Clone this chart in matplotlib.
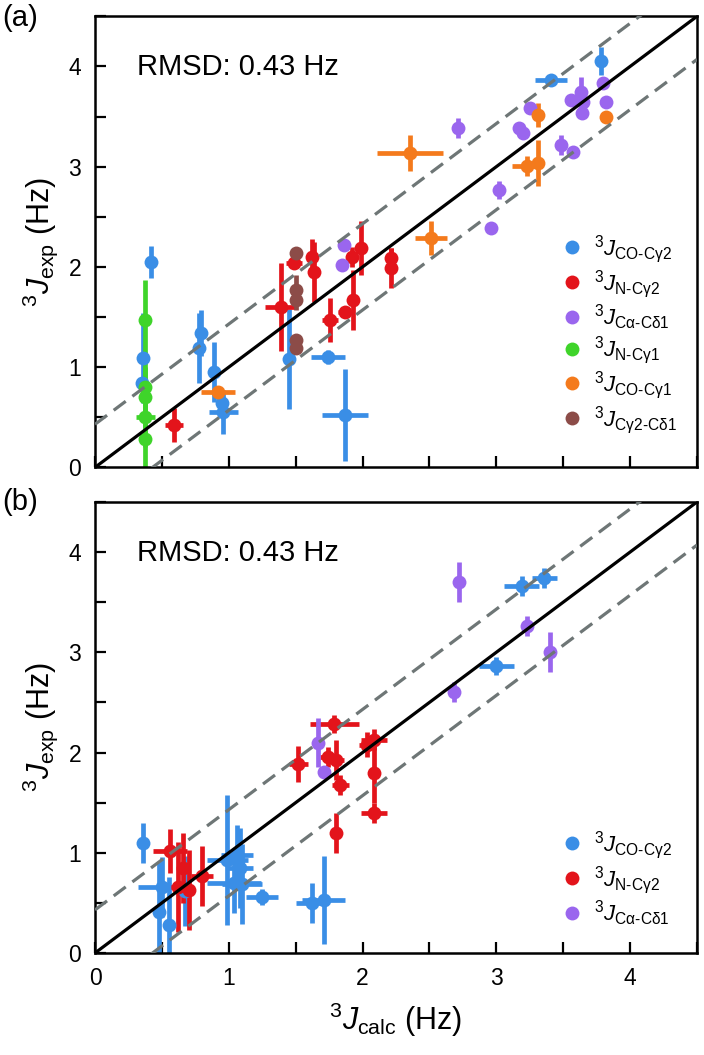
"""Experimental vs calculated 3J couplings, panels (a) and (b)"""
import numpy as np
import matplotlib
matplotlib.use("Agg")
import matplotlib.pyplot as plt
from matplotlib.lines import Line2D
from matplotlib.ticker import MultipleLocator

plt.rcParams['font.family'] = ['Liberation Sans', 'DejaVu Sans']
plt.rcParams['mathtext.fontset'] = 'custom'
plt.rcParams['mathtext.rm'] = 'Liberation Sans'
plt.rcParams['mathtext.it'] = 'Liberation Sans:italic'
plt.rcParams['mathtext.bf'] = 'Liberation Sans:bold'

RMSD = 0.43

# ---- panel (a) ----
blue_a_x = [0.42, 0.36, 0.35, 0.79, 0.78, 0.89, 0.95, 0.96, 1.45, 1.74, 1.87, 3.41, 3.78]
blue_a_y = [2.05, 1.09, 0.84, 1.34, 1.19, 0.95, 0.64, 0.55, 1.08, 1.10, 0.52, 3.86, 4.05]
blue_a_xerr = [0, 0, 0, 0, 0, 0, 0, 0.11, 0, 0.125, 0.17, 0.12, 0]
blue_a_yerr = [0.16, 0.45, 0.05, 0.23, 0.35, 0.3, 0.1, 0.22, 0.5, 0.07, 0.46, 0.03, 0.14]

red_a_x = [0.59, 1.39, 1.485, 1.62, 1.64, 1.76, 1.87, 1.93, 1.92, 1.985, 2.21, 2.21]
red_a_y = [0.42, 1.60, 2.04, 2.10, 1.95, 1.47, 1.55, 1.67, 2.10, 2.19, 2.09, 1.99]
red_a_xerr = [0.07, 0.12, 0.06, 0, 0, 0.06, 0.05, 0, 0, 0, 0, 0]
red_a_yerr = [0.17, 0.44, 0.05, 0.18, 0.3, 0.22, 0.05, 0.3, 0.1, 0.27, 0.1, 0.2]

purple_a_x = [1.86, 1.85, 2.71, 2.96, 3.02, 3.17, 3.20, 3.25, 3.48, 3.57, 3.56, 3.63, 3.65, 3.64, 3.80, 3.82]
purple_a_y = [2.22, 2.02, 3.39, 2.39, 2.77, 3.39, 3.34, 3.59, 3.22, 3.15, 3.67, 3.75, 3.65, 3.54, 3.84, 3.65]
purple_a_yerr = [0.05, 0.05, 0.1, 0.03, 0.09, 0.04, 0.04, 0.05, 0.1, 0.04, 0.04, 0.14, 0.05, 0.04, 0.05, 0.04]

green_a_x = [0.375, 0.375, 0.375, 0.375, 0.375]
green_a_y = [1.47, 0.80, 0.70, 0.50, 0.28]
green_a_xerr = [0, 0, 0, 0.07, 0]
green_a_yerr = [0.40, 0.35, 0.3, 0.3, 0.28]

orange_a_x = [0.92, 2.355, 2.51, 3.23, 3.31, 3.31, 3.82]
orange_a_y = [0.75, 3.14, 2.29, 3.01, 3.04, 3.52, 3.50]
orange_a_xerr = [0.13, 0.25, 0.12, 0.11, 0, 0, 0]
orange_a_yerr = [0.03, 0.18, 0.17, 0.10, 0.23, 0.12, 0.03]

brown_a_x = [1.50, 1.50, 1.50, 1.50, 1.50]
brown_a_y = [2.14, 1.77, 1.67, 1.27, 1.19]
brown_a_yerr = [0.06, 0.15, 0.1, 0.06, 0.06]

# ---- panel (b) ----
blue_b_x = [0.36, 0.50, 0.48, 0.55, 0.67, 0.99, 1.06, 1.08, 1.04, 1.10, 1.25, 1.62, 1.71, 3.00, 3.19, 3.36]
blue_b_y = [1.10, 0.66, 0.41, 0.28, 0.62, 0.93, 0.98, 0.85, 0.70, 0.69, 0.56, 0.50, 0.53, 2.86, 3.66, 3.74]
blue_b_xerr = [0, 0.18, 0, 0, 0.05, 0.15, 0.12, 0.1, 0.2, 0.15, 0.12, 0.12, 0.16, 0.13, 0.13, 0.09]
blue_b_yerr = [0.2, 0.3, 0.5, 0.48, 0.35, 0.65, 0.3, 0.4, 0.3, 0.4, 0.08, 0.2, 0.44, 0.09, 0.1, 0.1]

red_b_x = [0.56, 0.62, 0.66, 0.70, 0.80, 1.52, 1.79, 1.74, 1.80, 1.835, 2.03, 2.085, 2.085, 2.085, 1.805]
red_b_y = [1.02, 0.66, 0.85, 0.63, 0.77, 1.89, 2.28, 1.96, 1.93, 1.68, 2.08, 2.13, 1.80, 1.40, 1.20]
red_b_xerr = [0.13, 0.05, 0.05, 0.05, 0.08, 0.07, 0.18, 0.06, 0.06, 0.06, 0.06, 0.1, 0, 0.1, 0]
red_b_yerr = [0.22, 0.45, 0.35, 0.4, 0.3, 0.18, 0.09, 0.1, 0.2, 0.1, 0.12, 0.1, 0.3, 0.1, 0.2]

purple_b_x = [1.67, 1.71, 2.68, 2.72, 3.23, 3.40]
purple_b_y = [2.10, 1.81, 2.60, 3.70, 3.26, 3.00]
purple_b_yerr = [0.24, 0.05, 0.1, 0.2, 0.1, 0.2]

BLUE = '#3a8ee6'
RED = '#e3141b'
PURPLE = '#9a66ee'
GREEN = '#3fd42a'
ORANGE = '#f47a1c'
BROWN = '#8c4c48'
GRAY = '#6e7676'

labels = {
    'blue': r'$^{3}J_{\mathrm{CO\text{-}C\gamma2}}$',
    'red': r'$^{3}J_{\mathrm{N\text{-}C\gamma2}}$',
    'purple': r'$^{3}J_{\mathrm{C\alpha\text{-}C\delta1}}$',
    'green': r'$^{3}J_{\mathrm{N\text{-}C\gamma1}}$',
    'orange': r'$^{3}J_{\mathrm{CO\text{-}C\gamma1}}$',
    'brown': r'$^{3}J_{\mathrm{C\gamma2\text{-}C\delta1}}$',
}


def series(ax, x, y, color, xerr=None, yerr=None):
    ax.errorbar(x, y, xerr=xerr, yerr=yerr, fmt='o', color=color, ms=10,
                elinewidth=3.4, capsize=0, mew=0, zorder=2)


def style(ax, lim=4.5):
    ax.set_xlim(0, lim)
    ax.set_ylim(0, lim)
    ref = np.array([0, lim])
    ax.plot(ref, ref, color='black', lw=2.3, zorder=3)
    ax.plot(ref, ref + RMSD, color=GRAY, lw=2.3, ls=(0, (4.7, 2.6)), zorder=3)
    ax.plot(ref, ref - RMSD, color=GRAY, lw=2.3, ls=(0, (4.7, 2.6)), zorder=3)
    for a in (ax.xaxis, ax.yaxis):
        a.set_major_locator(MultipleLocator(1))
        a.set_minor_locator(MultipleLocator(0.5))
    ax.tick_params(which='both', direction='in', length=8, width=1.6,
                   top=False, right=False, labelsize=16.5, pad=10)
    for s in ax.spines.values():
        s.set_linewidth(1.8)
    ax.set_ylabel(r'$^{3}J_{\mathrm{exp}}$ (Hz)', fontsize=22, labelpad=6)
    ax.text(0.07, 0.887, 'RMSD: %.2f Hz' % RMSD, transform=ax.transAxes,
            fontsize=21, va='center', ha='left')


def legend(ax, keys, colors, y0):
    handles = [Line2D([], [], ls='', marker='o', ms=10, color=c, mew=0) for c in colors]
    ax.legend(handles, [labels[k] for k in keys], loc='lower left',
              bbox_to_anchor=(0.778, y0), frameon=False, fontsize=16,
              handlelength=0.8, handletextpad=0.6, labelspacing=0.12,
              borderpad=0, borderaxespad=0)


fig = plt.figure(figsize=(7.04, 10.55), dpi=100)
ax1 = fig.add_axes([0.135, 0.557, 0.855, 0.4275])
ax2 = fig.add_axes([0.135, 0.0967, 0.855, 0.4275])

series(ax1, blue_a_x, blue_a_y, BLUE, blue_a_xerr, blue_a_yerr)
series(ax1, red_a_x, red_a_y, RED, red_a_xerr, red_a_yerr)
series(ax1, purple_a_x, purple_a_y, PURPLE, None, purple_a_yerr)
series(ax1, green_a_x, green_a_y, GREEN, green_a_xerr, green_a_yerr)
series(ax1, orange_a_x, orange_a_y, ORANGE, orange_a_xerr, orange_a_yerr)
series(ax1, brown_a_x, brown_a_y, BROWN, None, brown_a_yerr)
style(ax1)
ax1.tick_params(labelbottom=False)
legend(ax1, ['blue', 'red', 'purple', 'green', 'orange', 'brown'],
       [BLUE, RED, PURPLE, GREEN, ORANGE, BROWN], 0.07)

series(ax2, blue_b_x, blue_b_y, BLUE, blue_b_xerr, blue_b_yerr)
series(ax2, red_b_x, red_b_y, RED, red_b_xerr, red_b_yerr)
series(ax2, purple_b_x, purple_b_y, PURPLE, None, purple_b_yerr)
style(ax2)
ax2.set_xlabel(r'$^{3}J_{\mathrm{calc}}$ (Hz)', fontsize=22, labelpad=8)
legend(ax2, ['blue', 'red', 'purple'], [BLUE, RED, PURPLE], 0.055)

fig.text(0.028, 0.983, '(a)', fontsize=21, ha='center', va='center')
fig.text(0.028, 0.524, '(b)', fontsize=21, ha='center', va='center')

fig.savefig('out.png', dpi=100)
